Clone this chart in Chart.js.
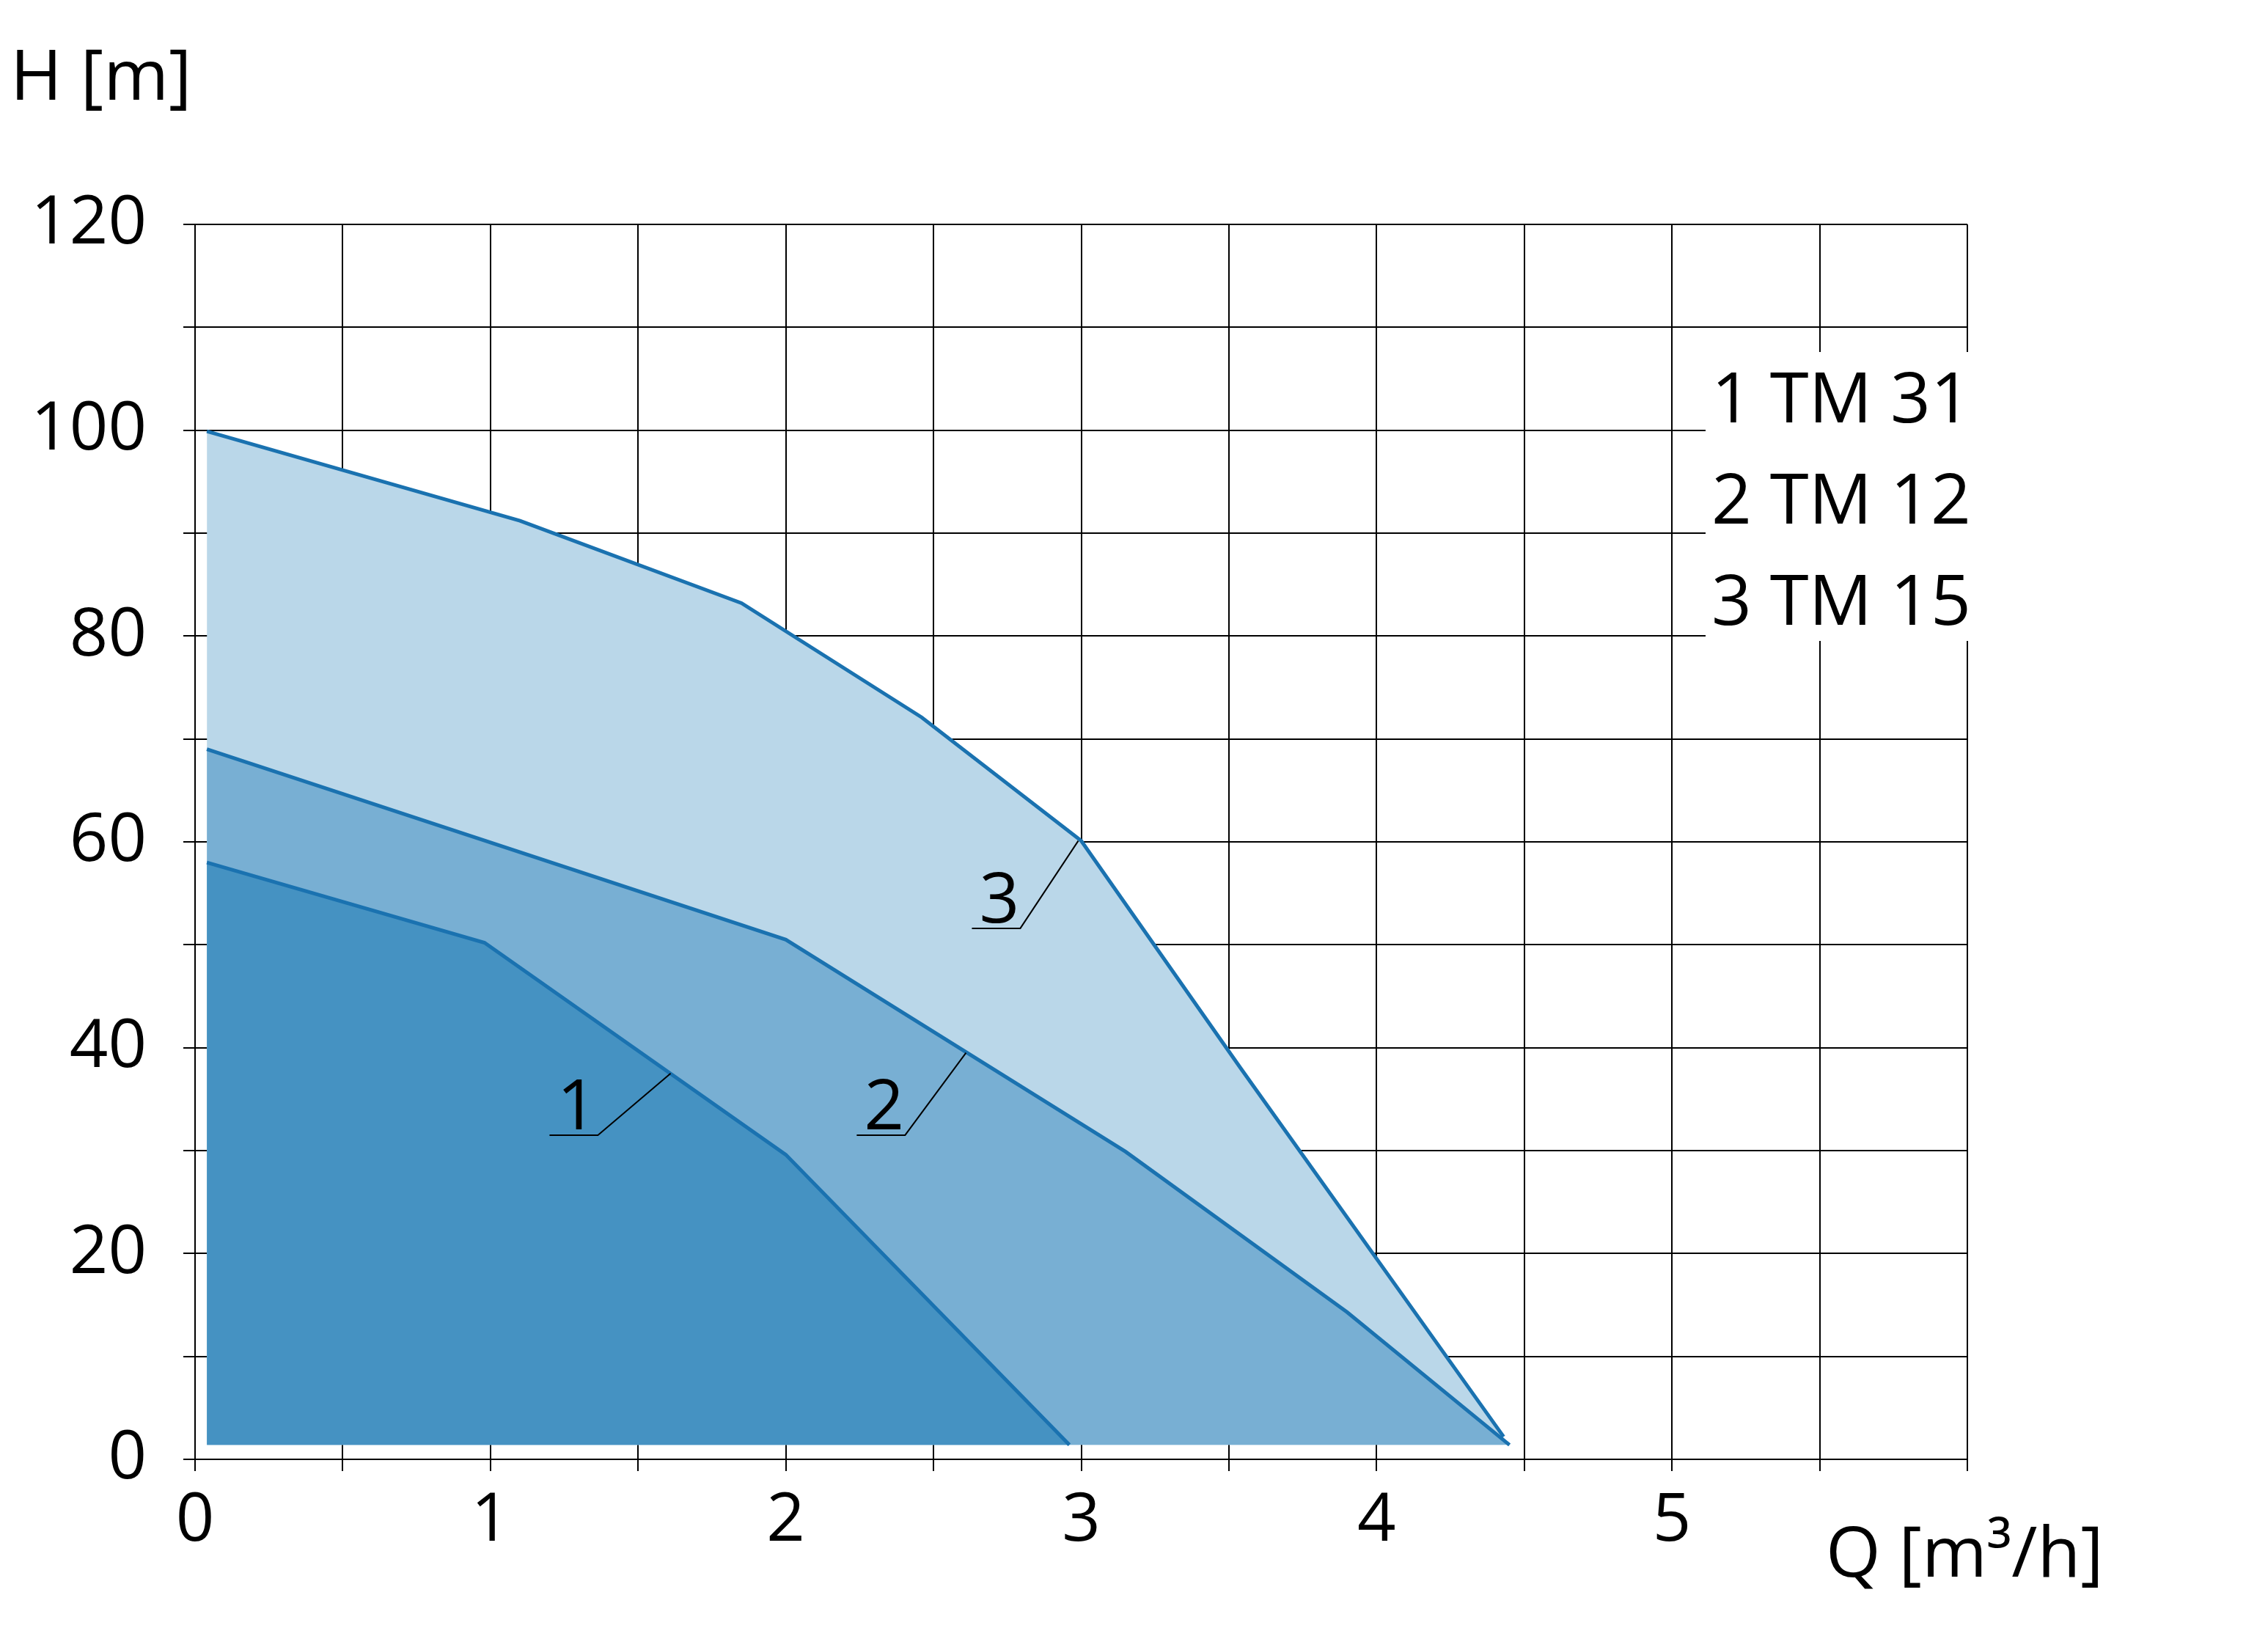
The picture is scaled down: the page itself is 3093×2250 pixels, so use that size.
<!DOCTYPE html>
<html lang="en">
<head>
  <meta charset="UTF-8">
  <title>TM pump curves</title>
  <script src="https://cdn.jsdelivr.net/npm/chart.js@4.4.0/dist/chart.umd.min.js"></script>
  <style>
    html, body { margin: 0; padding: 0; background: #fff; }
    #wrap { width: 3093px; height: 2250px; }
  </style>
</head>
<body>
  <div id="wrap"><canvas id="pump"></canvas></div>

  <script>
    // flow Q [m3/h] and head H [m]
    var q1 = [0.04, 0.98, 2.0, 2.96];
    var h1 = [58, 50.2, 29.6, 1.4];
    var q2 = [0.04, 2.0, 3.15, 3.9, 4.45];
    var h2 = [69, 50.5, 29.9, 14.3, 1.4];
    var q3 = [0.04, 1.1, 1.85, 2.46, 3.0, 3.54, 4.43];
    var h3 = [99.9, 91.2, 83.2, 72.1, 60.1, 38, 2.2];
    var legendLines = ["1 TM 31", "2 TM 12", "3 TM 15"];
    var baseLine = 1.4;

    function pts(xs, ys) {
      return xs.map(function (x, i) { return { x: x, y: ys[i] }; });
    }

    var lineColor = "#1a72b0";
    var font = "'Open Sans', 'Noto Sans', sans-serif";

    var extras = {
      id: "extras",
      afterDatasetsDraw: function (chart) {
        var ctx = chart.ctx, xs = chart.scales.x, ys = chart.scales.y;
        ctx.save();
        ctx.fillStyle = "#000";
        ctx.font = "96px " + font;
        ctx.textBaseline = "alphabetic";
        ctx.textAlign = "left";
        ctx.fillText("H [m]", 14, 136);
        ctx.fillText("Q [m³/h]", 2490, 2150);

        // legend box
        ctx.fillStyle = "#fff";
        ctx.fillRect(2326, 480, 388, 394);
        ctx.fillStyle = "#000";
        legendLines.forEach(function (t, i) {
          ctx.fillText(t, 2334, 576 + i * 138);
        });

        // curve numbers with leader lines
        var labels = [
          { t: "1", tx: 1.2, ty: 31.5, ax: 1.61, ay: 37.5 },
          { t: "2", tx: 2.24, ty: 31.5, ax: 2.61, ay: 39.5 },
          { t: "3", tx: 2.63, ty: 51.6, ax: 2.99, ay: 60.1 }
        ];
        ctx.strokeStyle = "#000";
        ctx.lineWidth = 2;
        labels.forEach(function (l) {
          var x0 = xs.getPixelForValue(l.tx), y0 = ys.getPixelForValue(l.ty);
          ctx.fillText(l.t, x0 + 10, y0 - 8);
          ctx.beginPath();
          ctx.moveTo(x0, y0);
          ctx.lineTo(x0 + 66, y0);
          ctx.lineTo(xs.getPixelForValue(l.ax), ys.getPixelForValue(l.ay));
          ctx.stroke();
        });
        ctx.restore();
      }
    };

    new Chart("pump", {
      type: "line",
      data: {
        datasets: [
          { data: pts(q1, h1), backgroundColor: "#4592c2" },
          { data: pts(q2, h2), backgroundColor: "#78afd3" },
          { data: pts(q3, h3), backgroundColor: "#bad7e9" }
        ].map(function (d) {
          d.borderColor = lineColor;
          d.borderWidth = 5;
          d.pointRadius = 0;
          d.tension = 0;
          d.fill = { value: baseLine };
          return d;
        })
      },
      options: {
        responsive: true,
        maintainAspectRatio: false,
        animation: false,
        layout: { padding: { top: 306, right: 410, left: 0, bottom: 26 } },
        plugins: { legend: { display: false }, tooltip: { enabled: false } },
        scales: {
          x: {
            type: "linear", min: 0, max: 6,
            afterFit: function (s) { s.height = 234; },
            afterBuildTicks: function (s) {
              var t = [];
              for (var v = 0; v <= 6; v += 0.5) t.push({ value: v });
              s.ticks = t;
            },
            ticks: {
              autoSkip: false, maxRotation: 0, padding: 14,
              color: "#000", font: { size: 92, family: font },
              callback: function (v) { return (Number.isInteger(v) && v <= 5) ? String(v) : ""; }
            },
            grid: { color: "#000", lineWidth: 2, tickLength: 16 },
            border: { color: "#000", width: 2 }
          },
          y: {
            min: 0, max: 120,
            afterFit: function (s) { s.width = 266; },
            ticks: {
              stepSize: 10, padding: 50,
              color: "#000", font: { size: 92, family: font },
              callback: function (v) { return v % 20 === 0 ? String(v) : ""; }
            },
            grid: { color: "#000", lineWidth: 2, tickLength: 16 },
            border: { color: "#000", width: 2 }
          }
        }
      },
      plugins: [extras]
    });
  </script>
</body>
</html>
